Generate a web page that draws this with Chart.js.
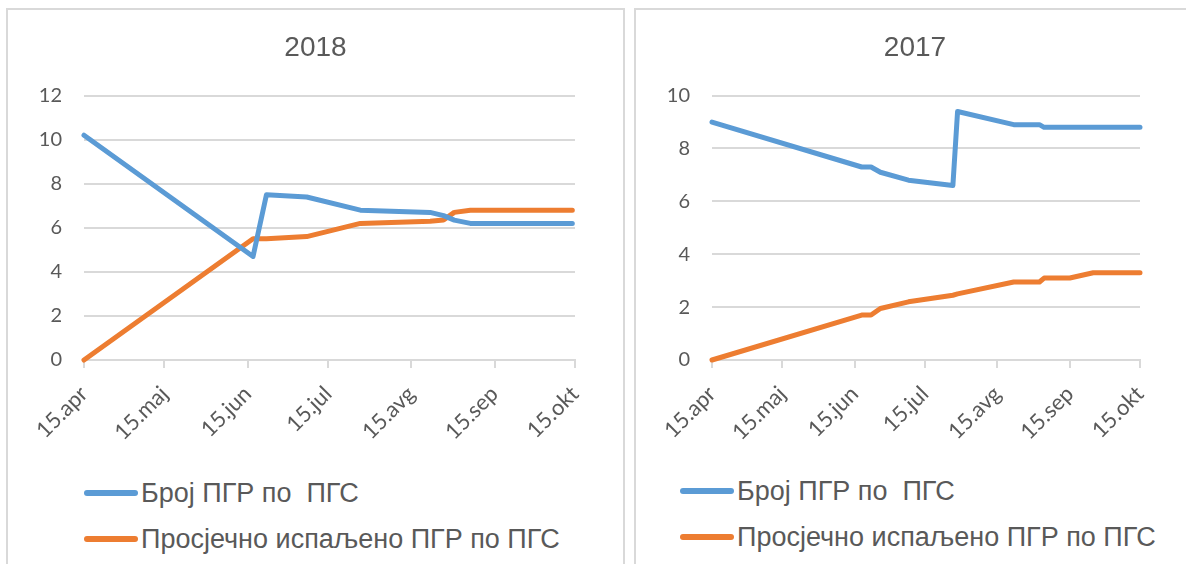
<!DOCTYPE html>
<html>
<head>
<meta charset="utf-8">
<script src="https://cdn.jsdelivr.net/npm/chart.js@4/dist/chart.umd.min.js"></script>
<style>
  html, body { margin: 0; padding: 0; background: #fff; width: 1186px; height: 564px; overflow: hidden; }
  .panel { position: absolute; top: 8px; height: 600px; border: 2px solid #d9d9d9; box-sizing: border-box; }
  .chartbox { position: absolute; top: 9px; }
  .legend { position: absolute; font-family: "Liberation Sans", Arial, sans-serif; font-size: 27px; color: #595959; }
  .legend .item { position: absolute; left: 0; white-space: pre; display: flex; align-items: center; height: 30px; }
  .legend .swatch { display: inline-block; width: 54px; height: 6px; border-radius: 3px; margin-right: 3px; }
</style>
</head>
<body>
<div class="panel" style="left:6px; width:619px;"></div>
<div class="panel" style="left:634px; width:600px;"></div>

<div class="chartbox" style="left:7px;"><canvas id="chart-2018" width="617" height="460"></canvas></div>
<div class="chartbox" style="left:635px;"><canvas id="chart-2017" width="560" height="460"></canvas></div>

<div class="legend" id="legend-2018" style="left:84px; top:478px;"></div>
<div class="legend" id="legend-2017" style="left:680px; top:476px;"></div>

<script>
// x axis: days counted from 15 April
const tickDays = [0, 30, 61, 91, 122, 153, 183];
const tickLabels = ['15.apr', '15.maj', '15.jun', '15.jul', '15.avg', '15.sep', '15.okt'];

const seriesNames = ['Број ПГР по  ПГС', 'Просјечно испаљено ПГР по ПГС'];
const seriesColors = ['#5B9BD5', '#ED7D31'];

// 2018
const days2018 = [0, 63, 68, 83, 103, 129, 134, 138, 144, 182];
const broj2018 = [10.2, 4.7, 7.5, 7.4, 6.8, 6.7, 6.55, 6.35, 6.2, 6.2];
const prosjek2018 = [0, 5.5, 5.5, 5.6, 6.2, 6.3, 6.35, 6.7, 6.8, 6.8];

// 2017
const days2017 = [0, 64, 68, 72, 84, 103, 105, 129, 140, 142, 153, 163, 183];
const broj2017 = [9.0, 7.3, 7.3, 7.1, 6.8, 6.6, 9.4, 8.9, 8.9, 8.8, 8.8, 8.8, 8.8];
const prosjek2017 = [0, 1.7, 1.7, 1.95, 2.2, 2.45, 2.5, 2.95, 2.95, 3.1, 3.1, 3.3, 3.3];

const textColor = '#595959';
const gridColor = '#d9d9d9';

function makeChart(id, title, days, broj, prosjek, yMax, padRight) {
	const canvas = document.getElementById(id);
	const series = [broj, prosjek];

	new Chart(canvas, {
		type: 'line',
		data: {
			datasets: series.map((vals, i) => ({
				label: seriesNames[i],
				data: vals.map((v, j) => ({ x: days[j], y: v })),
				borderColor: seriesColors[i],
				backgroundColor: seriesColors[i],
				borderWidth: 5,
				pointRadius: 0,
				tension: 0,
				borderJoinStyle: 'round',
				borderCapStyle: 'round',
				clip: 6
			}))
		},
		options: {
			responsive: false,
			animation: false,
			layout: { padding: 0 },
			plugins: {
				legend: { display: false },
				tooltip: { enabled: false },
				title: {
					display: true,
					text: title,
					color: textColor,
					font: { family: '"Liberation Sans", Arial, sans-serif', size: 28, weight: 'normal' },
					padding: { top: 22, bottom: 31 }
				}
			},
			scales: {
				x: {
					type: 'linear',
					min: 0,
					max: 183,
					afterBuildTicks: s => { s.ticks = tickDays.map(v => ({ value: v })); },
					// keep the title centred on the whole panel, only the plot gets the right margin
					afterFit: s => { s.height = 109; s.paddingRight = padRight; },
					ticks: {
						autoSkip: false,
						minRotation: 45,
						maxRotation: 45,
						padding: 13,
						color: textColor,
						font: { family: 'Lato', size: 22 },
						callback: v => tickLabels[tickDays.indexOf(v)]
					},
					grid: { drawOnChartArea: false, drawTicks: true, tickLength: 8, color: gridColor, lineWidth: 2 },
					border: { display: true, color: gridColor, width: 2 }
				},
				y: {
					min: 0,
					max: yMax,
					afterFit: s => { s.width = 77; },
					ticks: {
						stepSize: 2,
						padding: 22,
						color: textColor,
						font: { family: 'Lato', size: 20 }
					},
					grid: { color: gridColor, lineWidth: 2, drawTicks: false },
					border: { display: false }
				}
			}
		}
	});

	// legend in html, two rows like the original
	const legend = document.getElementById('legend-' + title);
	seriesNames.forEach((name, i) => {
		const item = document.createElement('div');
		item.className = 'item';
		item.style.top = (i * 46) + 'px';
		item.innerHTML = '<span class="swatch" style="background:' + seriesColors[i] + '"></span>';
		item.appendChild(document.createTextNode(name));
		legend.appendChild(item);
	});
}

makeChart('chart-2018', '2018', days2018, broj2018, prosjek2018, 12, 49);
makeChart('chart-2017', '2017', days2017, broj2017, prosjek2017, 10, 55);
</script>
</body>
</html>
